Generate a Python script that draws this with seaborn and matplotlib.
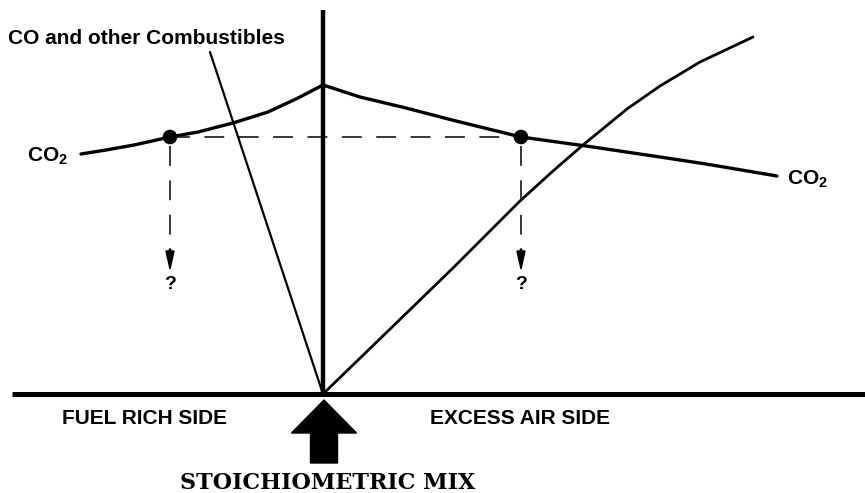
import matplotlib
matplotlib.use("Agg")
import matplotlib.pyplot as plt
import seaborn as sns
import pandas as pd

# x: distance from the stoichiometric point, y: height above the base line (arbitrary units)
co2_rich_x = [-242, -217, -189, -153, -125, -90, -55, -25, 0]
co2_rich_y = [240, 244, 249, 257, 262, 271, 282, 296, 309]

co2_lean_x = [0, 37, 83, 129, 198, 263, 337, 383, 454]
co2_lean_y = [309, 297, 286, 274, 257, 248, 237, 230, 218]

comb_x = [-113, 0]
comb_y = [342, 0]

air_x = [0, 64, 130, 197, 230, 260, 304, 337, 377, 430]
air_y = [0, 62, 126, 193, 223, 249, 285, 308, 332, 357]

dot_x = [-153, 198]
dot_y = [257, 257]
arrow_end_y = 125

sns.set_style("white")
plt.rcParams["font.family"] = ["Liberation Sans", "DejaVu Sans"]
plt.rcParams["text.color"] = "black"
plt.rcParams["mathtext.default"] = "regular"

fig = plt.figure(figsize=(8.65, 4.93), dpi=100)
ax = fig.add_axes([0, 0, 1, 1])
ax.set_xlim(-323, 542)
ax.set_ylim(-99, 394)
ax.axis("off")

# axes of the diagram
ax.plot([-311, 542], [0, 0], color="black", lw=3.6, solid_capstyle="butt")
ax.plot([0, 0], [0, 384], color="black", lw=3.2, solid_capstyle="butt")

co2_rich = pd.DataFrame({"x": co2_rich_x, "y": co2_rich_y})
co2_lean = pd.DataFrame({"x": co2_lean_x, "y": co2_lean_y})
comb = pd.DataFrame({"x": comb_x, "y": comb_y})
air = pd.DataFrame({"x": air_x, "y": air_y})

sns.lineplot(data=co2_rich, x="x", y="y", ax=ax, color="black", lw=2.4, estimator=None, sort=False)
sns.lineplot(data=co2_lean, x="x", y="y", ax=ax, color="black", lw=2.4, estimator=None, sort=False)
sns.lineplot(data=comb, x="x", y="y", ax=ax, color="black", lw=1.6, estimator=None, sort=False)
sns.lineplot(data=air, x="x", y="y", ax=ax, color="black", lw=2.0, estimator=None, sort=False)

# dashed guides
dash = (0, (13, 9.5))
ax.plot(dot_x, dot_y, color="black", lw=1.1, linestyle=dash)
for x, y in zip(dot_x, dot_y):
    ax.plot([x, x], [y - 9, arrow_end_y + 20], color="black", lw=1.1, linestyle=dash)
    ax.arrow(x, arrow_end_y + 20, 0, -20, width=1.2, head_width=8, head_length=18,
             length_includes_head=True, color="black")
    ax.text(x, arrow_end_y - 20, "?", ha="center", va="baseline",
            fontsize=14, fontweight="bold")

sns.scatterplot(x=dot_x, y=dot_y, ax=ax, color="black", s=110, edgecolor="none", zorder=5)

# big stoichiometric arrow
ax.arrow(1, -69, 0, 63, width=27, head_width=65, head_length=33,
         length_includes_head=True, color="black")

ax.text(-315, 350, "CO and other Combustibles", fontsize=15, fontweight="bold", va="baseline")
ax.text(-296, 232, "CO$_2$", fontsize=15, fontweight="bold", va="baseline")
ax.text(464, 209, "CO$_2$", fontsize=15, fontweight="bold", va="baseline")
ax.text(-261, -30, "FUEL RICH SIDE", fontsize=15, fontweight="bold", va="baseline")
ax.text(107, -30, "EXCESS AIR SIDE", fontsize=15, fontweight="bold", va="baseline")
ax.text(4.5, -95, "STOICHIOMETRIC MIX", fontsize=16, fontweight="bold", ha="center",
        va="baseline", family="DejaVu Serif")

fig.savefig("out.png", dpi=100, facecolor="white")
